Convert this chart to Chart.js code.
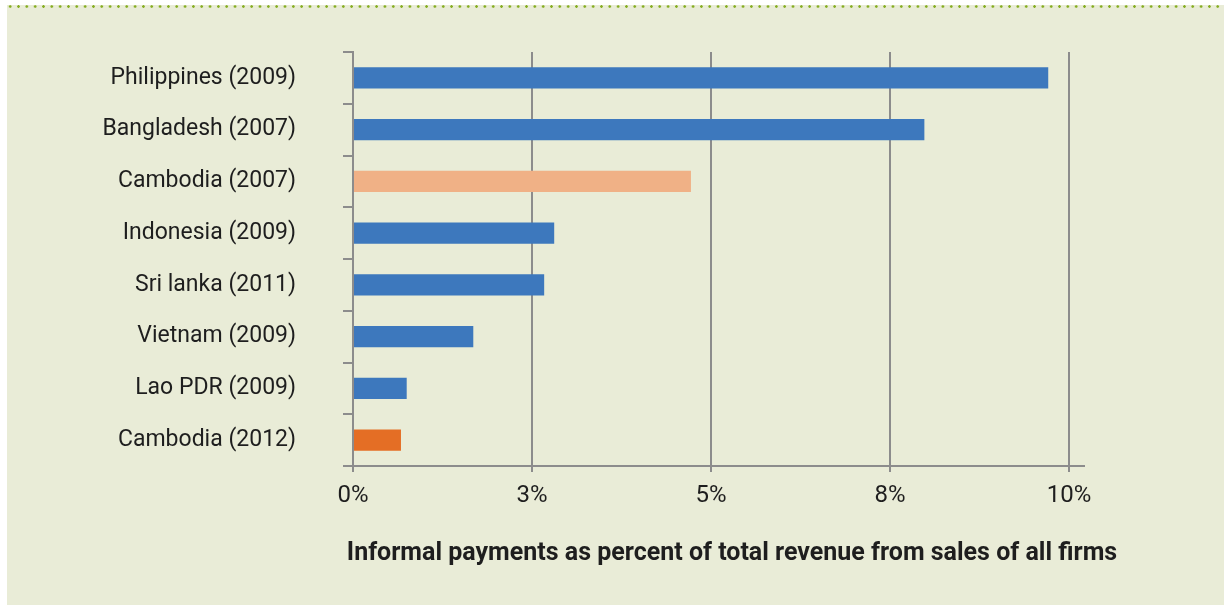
<!DOCTYPE html>
<html>
<head>
<meta charset="utf-8">
<script src="https://cdn.jsdelivr.net/npm/chart.js@4"></script>
<style>
  html, body { margin: 0; padding: 0; background: #ffffff; }
  .panel {
    position: absolute;
    left: 7px;
    top: 5px;
    width: 1217px;
    height: 600px;
    background: #e9ecd7;
  }
  /* dotted rule along the top of the panel */
  .dots {
    position: absolute;
    left: -1px;
    top: 0;
    width: 1218px;
    height: 3px;
    background-image: radial-gradient(circle, #86ad22 1.1px, transparent 1.5px);
    background-size: 8.33px 3px;
    background-repeat: repeat-x;
  }
  .chart-box {
    position: absolute;
    left: 0;
    top: 1px;
    width: 1217px;
    height: 599px;
  }
</style>
</head>
<body>
<div class="panel">
  <div class="dots"></div>
  <div class="chart-box"><canvas id="chart-js"></canvas></div>
</div>
<script>
// Data //
const countries = [
  "Philippines (2009)",
  "Bangladesh (2007)",
  "Cambodia (2007)",
  "Indonesia (2009)",
  "Sri lanka (2011)",
  "Vietnam (2009)",
  "Lao PDR (2009)",
  "Cambodia (2012)",
];
const informalPayments = [9.71, 7.98, 4.72, 2.81, 2.67, 1.68, 0.75, 0.67];
const tickValues = [0, 2.5, 5, 7.5, 10];
const tickLabels = ["0%", "3%", "5%", "8%", "10%"];
const axisTitle = "Informal payments as percent of total revenue from sales of all firms";

// Colours //
const blue = "#3d78bd";
const barColors = {
  "Cambodia (2007)": "#f0b186",
  "Cambodia (2012)": "#e46e25",
};
const gridGray = "#8c8c8c";
const textColor = "#1e1e1e";
const fontFamily = "Roboto, 'Noto Sans', sans-serif";

// x-axis line that runs a bit past both ends, plus the title under the ticks
const extrasPlugin = {
  id: "extras",
  afterDraw(chart) {
    const { ctx, chartArea } = chart;
    ctx.save();
    ctx.strokeStyle = gridGray;
    ctx.lineWidth = 2;
    ctx.beginPath();
    ctx.moveTo(chartArea.left - 10, chartArea.bottom);
    ctx.lineTo(chartArea.right + 16, chartArea.bottom);
    ctx.stroke();

    ctx.fillStyle = textColor;
    ctx.font = "bold 25px " + fontFamily;
    ctx.textAlign = "center";
    ctx.textBaseline = "alphabetic";
    const cx = (chartArea.left + chartArea.right) / 2 + 21;
    ctx.fillText(axisTitle, cx, chartArea.bottom + 94);
    ctx.restore();
  },
};

const ctx = document.getElementById("chart-js").getContext("2d");

new Chart(ctx, {
  type: "bar",
  data: {
    labels: countries,
    datasets: [
      {
        data: informalPayments,
        backgroundColor: countries.map((c) => barColors[c] || blue),
        borderWidth: 0,
        categoryPercentage: 1,
        barPercentage: 0.41,
      },
    ],
  },
  options: {
    indexAxis: "y",
    responsive: true,
    maintainAspectRatio: false,
    animation: false,
    layout: {
      padding: { top: 46, right: 155, bottom: 79, left: 0 },
    },
    plugins: {
      legend: { display: false },
      tooltip: { enabled: false },
    },
    scales: {
      x: {
        min: 0,
        max: 10,
        afterBuildTicks: (scale) => {
          scale.ticks = tickValues.map((v) => ({ value: v }));
        },
        afterFit: (scale) => {
          scale.height = 60;
        },
        ticks: {
          callback: (value, index) => tickLabels[index],
          color: textColor,
          font: { family: fontFamily, size: 24 },
          padding: 10,
          maxRotation: 0,
        },
        grid: {
          color: gridGray,
          lineWidth: 2,
          tickLength: 6,
          drawTicks: true,
        },
        border: { display: false },
      },
      y: {
        afterFit: (scale) => {
          // the wide label gap shouldn't push the plot area down
          scale.width = 346;
          scale.paddingTop = 0;
          scale.paddingBottom = 0;
        },
        ticks: {
          color: textColor,
          font: { family: fontFamily, size: 23 },
          padding: 47,
        },
        grid: {
          offset: true,
          drawOnChartArea: false,
          drawTicks: true,
          tickLength: 10,
          color: gridGray,
          lineWidth: 2,
        },
        border: { display: true, color: gridGray, width: 2 },
      },
    },
  },
  plugins: [extrasPlugin],
});
</script>
</body>
</html>
